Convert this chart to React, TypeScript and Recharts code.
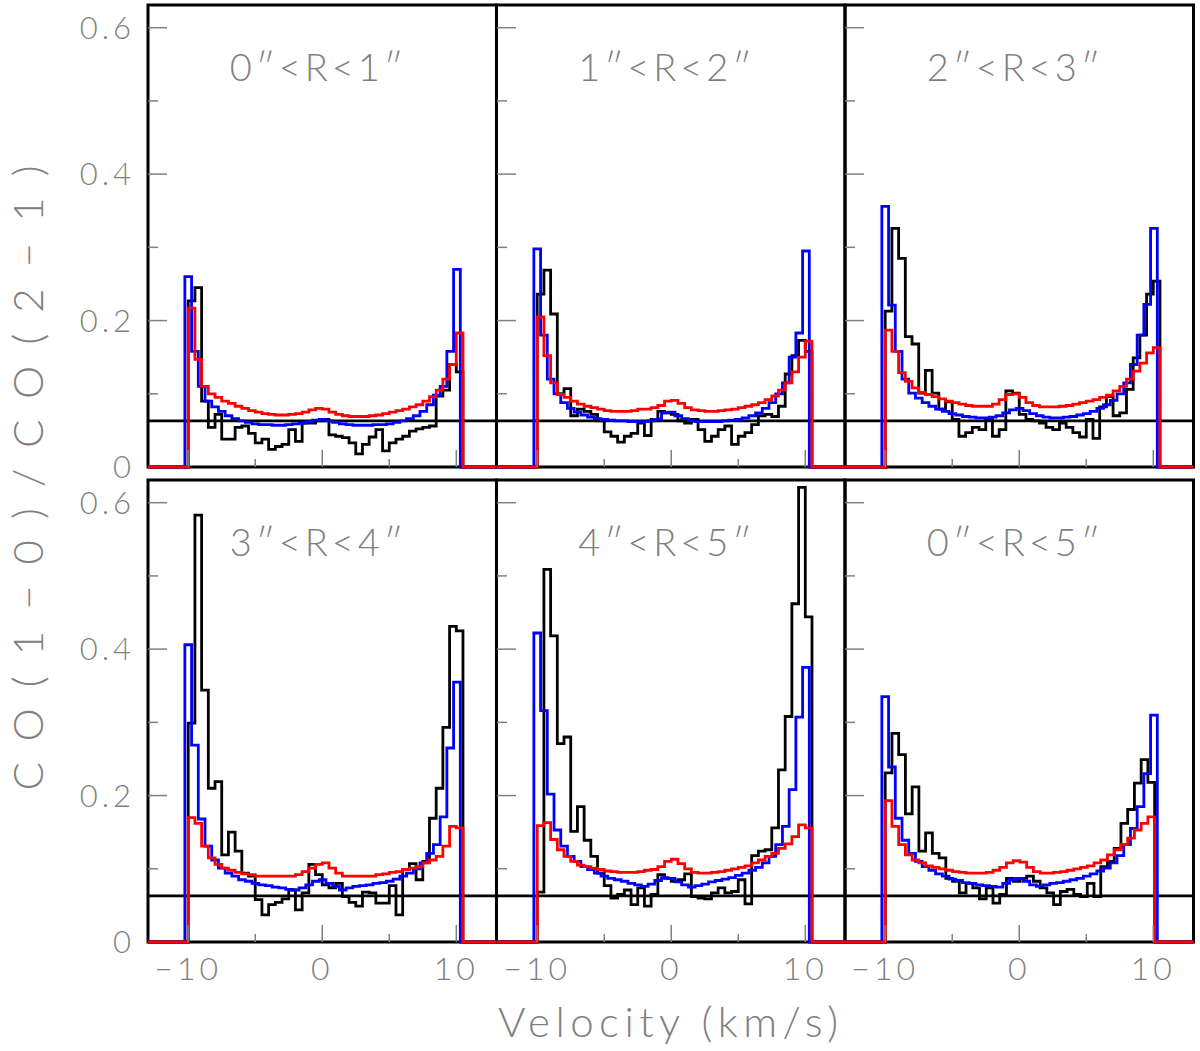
import { LineChart, Line, XAxis, YAxis, ReferenceLine } from "recharts";

// bin ranges of the histograms (km/s)
const BLUE_RANGE = [-10.25, 10.3];
const RED_RANGE = [-10, 10.5];
const SUM_RANGE = [-10, 10.1];

const X_DOMAIN = [-13, 13];
const Y_DOMAIN = [0, 0.631];
const X_TICKS = [-10, -5, 0, 5, 10];
const Y_TICKS = [0, 0.1, 0.2, 0.3, 0.4, 0.5, 0.6];
const THRESHOLD = 0.063;

const TITLES = ["0″<R<1″", "1″<R<2″", "2″<R<3″", "3″<R<4″", "4″<R<5″", "0″<R<5″"];

// 0"<R<1"
const P1_OBS = [0.227, 0.245, 0.09, 0.054, 0.072, 0.038, 0.038, 0.054, 0.056, 0.046, 0.033, 0.038, 0.024, 0.028, 0.031, 0.051, 0.035, 0.06, 0.06, 0.063, 0.065, 0.044, 0.042, 0.04, 0.033, 0.018, 0.031, 0.041, 0.051, 0.022, 0.033, 0.038, 0.042, 0.049, 0.052, 0.054, 0.056, 0.097, 0.105, 0.14, 0.13];
const P1_BLUE = [0.26, 0.158, 0.11, 0.09, 0.082, 0.076, 0.07, 0.066, 0.063, 0.061, 0.059, 0.058, 0.058, 0.057, 0.057, 0.058, 0.059, 0.06, 0.062, 0.064, 0.065, 0.063, 0.061, 0.059, 0.058, 0.057, 0.057, 0.057, 0.058, 0.058, 0.059, 0.061, 0.063, 0.066, 0.07, 0.076, 0.085, 0.098, 0.11, 0.158, 0.27];
const P1_RED = [0.217, 0.147, 0.11, 0.1, 0.095, 0.09, 0.087, 0.083, 0.08, 0.077, 0.075, 0.073, 0.072, 0.071, 0.071, 0.072, 0.073, 0.075, 0.078, 0.08, 0.079, 0.075, 0.072, 0.07, 0.069, 0.069, 0.069, 0.07, 0.071, 0.073, 0.075, 0.077, 0.079, 0.082, 0.085, 0.09, 0.096, 0.105, 0.12, 0.14, 0.183];

// 1"<R<2"
const P2_OBS = [0.236, 0.269, 0.209, 0.1, 0.107, 0.07, 0.079, 0.076, 0.072, 0.063, 0.048, 0.042, 0.034, 0.042, 0.046, 0.06, 0.043, 0.065, 0.076, 0.074, 0.072, 0.063, 0.06, 0.065, 0.051, 0.035, 0.042, 0.051, 0.056, 0.031, 0.042, 0.047, 0.058, 0.07, 0.072, 0.069, 0.083, 0.127, 0.152, 0.173, 0.158];
const P2_BLUE = [0.298, 0.18, 0.12, 0.1, 0.088, 0.08, 0.075, 0.071, 0.068, 0.066, 0.065, 0.064, 0.063, 0.063, 0.062, 0.062, 0.062, 0.063, 0.065, 0.074, 0.075, 0.07, 0.066, 0.063, 0.062, 0.062, 0.062, 0.062, 0.063, 0.064, 0.065, 0.067, 0.07, 0.074, 0.08, 0.088, 0.1, 0.115, 0.15, 0.183, 0.295];
const P2_RED = [0.205, 0.152, 0.115, 0.099, 0.095, 0.09, 0.086, 0.083, 0.081, 0.079, 0.077, 0.076, 0.076, 0.076, 0.077, 0.079, 0.079, 0.081, 0.084, 0.09, 0.091, 0.087, 0.081, 0.078, 0.077, 0.076, 0.076, 0.077, 0.078, 0.079, 0.081, 0.083, 0.085, 0.088, 0.092, 0.097, 0.105, 0.115, 0.13, 0.15, 0.172];

// 2"<R<3"
const P3_OBS = [0.213, 0.326, 0.285, 0.178, 0.168, 0.101, 0.132, 0.101, 0.079, 0.089, 0.065, 0.042, 0.047, 0.054, 0.051, 0.065, 0.042, 0.051, 0.104, 0.101, 0.072, 0.065, 0.063, 0.06, 0.054, 0.051, 0.06, 0.054, 0.047, 0.041, 0.065, 0.039, 0.082, 0.096, 0.07, 0.074, 0.106, 0.149, 0.18, 0.236, 0.254];
const P3_BLUE = [0.356, 0.221, 0.158, 0.12, 0.101, 0.094, 0.088, 0.083, 0.079, 0.076, 0.073, 0.071, 0.069, 0.068, 0.067, 0.067, 0.068, 0.07, 0.074, 0.078, 0.08, 0.077, 0.073, 0.07, 0.068, 0.067, 0.067, 0.068, 0.069, 0.071, 0.073, 0.076, 0.08, 0.085, 0.091, 0.1, 0.115, 0.14, 0.18, 0.222, 0.326];
const P3_RED = [0.187, 0.158, 0.129, 0.117, 0.108, 0.102, 0.099, 0.096, 0.093, 0.09, 0.088, 0.086, 0.084, 0.083, 0.083, 0.083, 0.086, 0.092, 0.099, 0.1, 0.095, 0.088, 0.084, 0.082, 0.082, 0.082, 0.083, 0.084, 0.086, 0.088, 0.09, 0.092, 0.095, 0.098, 0.104, 0.11, 0.12, 0.131, 0.142, 0.156, 0.163];

// 3"<R<4"
const P4_OBS = [0.299, 0.583, 0.344, 0.21, 0.219, 0.119, 0.15, 0.124, 0.094, 0.09, 0.058, 0.037, 0.051, 0.054, 0.059, 0.071, 0.044, 0.067, 0.106, 0.092, 0.078, 0.074, 0.08, 0.062, 0.054, 0.049, 0.068, 0.067, 0.053, 0.053, 0.077, 0.037, 0.099, 0.107, 0.085, 0.11, 0.169, 0.21, 0.293, 0.431, 0.425];
const P4_BLUE = [0.406, 0.269, 0.168, 0.131, 0.112, 0.101, 0.094, 0.09, 0.085, 0.083, 0.08, 0.078, 0.077, 0.075, 0.074, 0.072, 0.071, 0.074, 0.078, 0.083, 0.085, 0.08, 0.076, 0.071, 0.074, 0.076, 0.077, 0.078, 0.08, 0.081, 0.083, 0.086, 0.09, 0.094, 0.1, 0.108, 0.121, 0.133, 0.171, 0.265, 0.355];
const P4_RED = [0.17, 0.162, 0.131, 0.115, 0.106, 0.101, 0.098, 0.095, 0.093, 0.092, 0.09, 0.09, 0.09, 0.09, 0.09, 0.09, 0.092, 0.096, 0.101, 0.106, 0.108, 0.101, 0.094, 0.09, 0.09, 0.09, 0.09, 0.09, 0.092, 0.093, 0.095, 0.096, 0.099, 0.101, 0.103, 0.108, 0.112, 0.117, 0.131, 0.158, 0.156];

// 4"<R<5"
const P5_OBS = [0.068, 0.509, 0.418, 0.271, 0.28, 0.151, 0.185, 0.139, 0.117, 0.094, 0.077, 0.06, 0.065, 0.071, 0.051, 0.074, 0.049, 0.065, 0.092, 0.087, 0.083, 0.085, 0.093, 0.062, 0.06, 0.059, 0.067, 0.074, 0.067, 0.069, 0.085, 0.052, 0.118, 0.124, 0.126, 0.156, 0.235, 0.308, 0.462, 0.621, 0.444];
const P5_BLUE = [0.422, 0.316, 0.202, 0.153, 0.131, 0.117, 0.11, 0.103, 0.099, 0.094, 0.09, 0.087, 0.085, 0.083, 0.08, 0.078, 0.076, 0.079, 0.084, 0.088, 0.087, 0.082, 0.078, 0.075, 0.077, 0.079, 0.082, 0.084, 0.086, 0.088, 0.091, 0.094, 0.098, 0.102, 0.108, 0.117, 0.133, 0.158, 0.208, 0.307, 0.375];
const P5_RED = [0.159, 0.163, 0.14, 0.126, 0.117, 0.11, 0.105, 0.103, 0.101, 0.099, 0.097, 0.096, 0.095, 0.095, 0.095, 0.096, 0.098, 0.099, 0.103, 0.11, 0.113, 0.107, 0.1, 0.095, 0.094, 0.094, 0.095, 0.096, 0.098, 0.1, 0.102, 0.104, 0.108, 0.112, 0.117, 0.121, 0.128, 0.134, 0.144, 0.16, 0.156];

// 0"<R<5"
const P6_OBS = [0.231, 0.285, 0.256, 0.175, 0.212, 0.124, 0.149, 0.121, 0.115, 0.087, 0.083, 0.067, 0.08, 0.074, 0.059, 0.074, 0.053, 0.065, 0.087, 0.083, 0.087, 0.09, 0.083, 0.074, 0.067, 0.051, 0.069, 0.072, 0.065, 0.062, 0.08, 0.062, 0.103, 0.11, 0.128, 0.162, 0.181, 0.217, 0.249, 0.218];
const P6_BLUE = [0.335, 0.239, 0.169, 0.139, 0.121, 0.11, 0.103, 0.098, 0.093, 0.09, 0.086, 0.084, 0.081, 0.08, 0.078, 0.077, 0.076, 0.075, 0.08, 0.085, 0.087, 0.083, 0.078, 0.076, 0.078, 0.08, 0.081, 0.083, 0.085, 0.087, 0.09, 0.093, 0.097, 0.101, 0.108, 0.118, 0.133, 0.155, 0.185, 0.23, 0.31];
const P6_RED = [0.193, 0.158, 0.133, 0.119, 0.112, 0.108, 0.104, 0.102, 0.1, 0.098, 0.096, 0.095, 0.094, 0.094, 0.094, 0.095, 0.098, 0.102, 0.108, 0.111, 0.109, 0.102, 0.096, 0.094, 0.094, 0.095, 0.096, 0.098, 0.1, 0.102, 0.104, 0.108, 0.112, 0.119, 0.126, 0.133, 0.142, 0.153, 0.162, 0.171];

const PW = 348.5;
const PH = 462;
const PAD_L = 150;
const PAD_B = 60;
const COLS = [148, 496.5, 845];
const ROWS = [5, 480];
const GREY = "#808080";
const FONT = "Lato, 'DejaVu Sans', sans-serif";
const LW = 2.8;

// histogram -> points for a stepAfter line, zero outside the bins
function steps(range: number[], vals: number[]) {
  const w = (range[1] - range[0]) / vals.length;
  const pts = [{ x: X_DOMAIN[0], y: 0 }];
  vals.forEach((v, i) => pts.push({ x: range[0] + i * w, y: v }));
  pts.push({ x: range[1], y: 0 }, { x: X_DOMAIN[1], y: 0 });
  return pts;
}

const PANELS = [
  { obs: steps(RED_RANGE, P1_OBS), blue: steps(BLUE_RANGE, P1_BLUE), red: steps(RED_RANGE, P1_RED) },
  { obs: steps(RED_RANGE, P2_OBS), blue: steps(BLUE_RANGE, P2_BLUE), red: steps(RED_RANGE, P2_RED) },
  { obs: steps(RED_RANGE, P3_OBS), blue: steps(BLUE_RANGE, P3_BLUE), red: steps(RED_RANGE, P3_RED) },
  { obs: steps(RED_RANGE, P4_OBS), blue: steps(BLUE_RANGE, P4_BLUE), red: steps(RED_RANGE, P4_RED) },
  { obs: steps(RED_RANGE, P5_OBS), blue: steps(BLUE_RANGE, P5_BLUE), red: steps(RED_RANGE, P5_RED) },
  { obs: steps(SUM_RANGE, P6_OBS), blue: steps(BLUE_RANGE, P6_BLUE), red: steps(SUM_RANGE, P6_RED) },
];

function YTick(props: any) {
  const { y, payload, showLabel } = props;
  const v = payload.value;
  const major = Math.round(v * 10) % 2 === 0;
  const len = major ? 19 : 10;
  return (
    <g>
      {v > 0 && <line x1={PAD_L} x2={PAD_L + len} y1={y} y2={y} stroke={GREY} strokeWidth={1.5} />}
      {showLabel && major && (
        <text x={PAD_L - 13} y={y + 11} textAnchor="end" fontSize={31} fontWeight={300}
          fontFamily={FONT} fill={GREY} letterSpacing={4}>
          {v === 0 ? "0" : v.toFixed(1)}
        </text>
      )}
    </g>
  );
}

function XTick(props: any) {
  const { x, payload, showLabel } = props;
  const v = payload.value;
  const major = v % 10 === 0;
  const len = major ? 17 : 8;
  return (
    <g>
      <line x1={x} x2={x} y1={PH} y2={PH - len} stroke={GREY} strokeWidth={1.5} />
      {showLabel && major && (
        <text x={x} y={PH + 38} textAnchor="middle" fontSize={32} fontWeight={300}
          fontFamily={FONT} fill={GREY} letterSpacing={4}>
          {v < 0 ? "\u2212" + Math.abs(v) : String(v)}
        </text>
      )}
    </g>
  );
}

function Panel({ idx }: { idx: number }) {
  const p = PANELS[idx];
  const col = idx % 3;
  const row = Math.floor(idx / 3);
  const showY = col === 0;
  const showX = row === 1;
  return (
    <div style={{ position: "absolute", left: COLS[col] - PAD_L, top: ROWS[row] }}>
      <LineChart width={PW + PAD_L} height={PH + PAD_B} margin={{ top: 0, right: 0, bottom: 0, left: 0 }}>
        <XAxis type="number" dataKey="x" domain={X_DOMAIN} ticks={X_TICKS} interval={0}
          height={PAD_B} axisLine={false} tickLine={false}
          tick={(t: any) => <XTick {...t} showLabel={showX} />} />
        <YAxis type="number" domain={Y_DOMAIN} ticks={Y_TICKS} interval={0}
          width={PAD_L} axisLine={false} tickLine={false}
          tick={(t: any) => <YTick {...t} showLabel={showY} />} />
        <ReferenceLine y={THRESHOLD} stroke="#000" strokeWidth={LW} />
        <Line data={p.obs} dataKey="y" type="stepAfter" stroke="#000" strokeWidth={LW}
          dot={false} isAnimationActive={false} />
        <Line data={p.blue} dataKey="y" type="stepAfter" stroke="#0000ff" strokeWidth={LW}
          dot={false} isAnimationActive={false} />
        <Line data={p.red} dataKey="y" type="stepAfter" stroke="#ff0000" strokeWidth={LW}
          dot={false} isAnimationActive={false} />
      </LineChart>
    </div>
  );
}

export default function App() {
  return (
    <div style={{ position: "absolute", left: 0, top: 0, width: 1200, height: 1051, background: "#fff" }}>
      <svg width={1200} height={1051} style={{ position: "absolute", left: 0, top: 0 }}>
        {PANELS.map((_, i) => (
          <rect key={i} x={COLS[i % 3]} y={ROWS[Math.floor(i / 3)]} width={PW} height={PH}
            fill="none" stroke="#000" strokeWidth={3} />
        ))}
      </svg>
      {PANELS.map((_, i) => (
        <Panel key={i} idx={i} />
      ))}
      <svg width={1200} height={1051} style={{ position: "absolute", left: 0, top: 0, pointerEvents: "none" }}>
        {TITLES.map((t, i) => (
          <text key={t} x={COLS[i % 3] + PW / 2 - 6} y={ROWS[Math.floor(i / 3)] + 76}
            textAnchor="middle" fontSize={38} fontWeight={300} fontFamily={FONT} fill={GREY}
            textLength={173} lengthAdjust="spacing">
            {t}
          </text>
        ))}
        <text transform="translate(43,478) rotate(-90)" textAnchor="middle" fontSize={42}
          fontWeight={300} fontFamily={FONT} fill={GREY} textLength={625} lengthAdjust="spacing">
          CO(1−0)/CO(2−1)
        </text>
        <text x={668} y={1037} textAnchor="middle" fontSize={42} fontWeight={300}
          fontFamily={FONT} fill={GREY} textLength={340} lengthAdjust="spacing">
          Velocity (km/s)
        </text>
      </svg>
    </div>
  );
}
